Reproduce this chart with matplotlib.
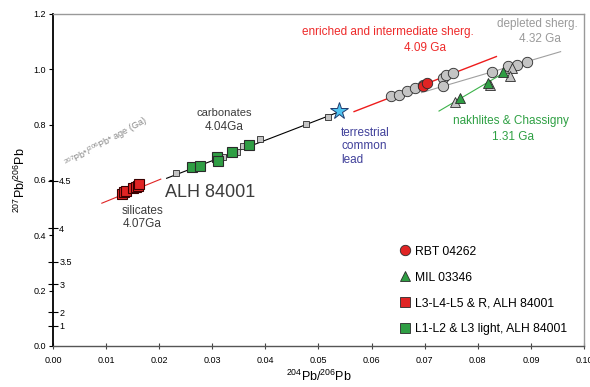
import matplotlib.pyplot as plt
import numpy as np

plt.rcParams['font.family'] = ['Liberation Sans', 'DejaVu Sans']
plt.rcParams['mathtext.fontset'] = 'custom'
plt.rcParams['mathtext.rm'] = 'Liberation Sans'
plt.rcParams['mathtext.it'] = 'Liberation Sans:italic'

red = "#e02424"
green = "#2f9e44"
grey = "#c4c4c4"
edge = "#2a2a2a"

# ALH 84001 silicates (L3-L4-L5 & R)
sil_x = [0.0130, 0.0134, 0.0137, 0.0151, 0.0156, 0.0160, 0.0162]
sil_y = [0.549, 0.557, 0.560, 0.571, 0.575, 0.578, 0.586]

# ALH 84001 carbonates (L1-L2 & L3 light)
carb_x = [0.0262, 0.0277, 0.0309, 0.0310, 0.0337, 0.0369]
carb_y = [0.646, 0.651, 0.683, 0.670, 0.702, 0.727]

# other carbonate fractions (grey squares)
gsq_x = [0.0232, 0.0320, 0.0346, 0.0358, 0.0389, 0.0476, 0.0517]
gsq_y = [0.624, 0.683, 0.701, 0.723, 0.749, 0.801, 0.827]

# shergottites (grey circles)
sherg_x = [0.0636, 0.0652, 0.0667, 0.0682, 0.0697, 0.0734, 0.0741, 0.0754,
           0.0734, 0.0826, 0.0857, 0.0873, 0.0893]
sherg_y = [0.904, 0.907, 0.922, 0.934, 0.943, 0.967, 0.979, 0.988,
           0.940, 0.991, 1.012, 1.016, 1.028]

# RBT 04262
rbt_x = [0.0697, 0.0705]
rbt_y = [0.940, 0.949]

# nakhlites & Chassigny (grey triangles)
nak_x = [0.0757, 0.0823, 0.0864, 0.0861]
nak_y = [0.883, 0.943, 1.004, 0.976]

# MIL 03346
mil_x = [0.0766, 0.0820, 0.0848]
mil_y = [0.895, 0.949, 0.991]

# terrestrial common lead
star_x = [0.0539]
star_y = [0.849]

# isochron lines (end points)
sil_line_x = [0.0092, 0.0203]
sil_line_y = [0.516, 0.603]
carb_line_x = [0.0214, 0.0540]
carb_line_y = [0.606, 0.847]
enr_line_x = [0.0567, 0.0835]
enr_line_y = [0.847, 1.046]
dep_line_x = [0.0694, 0.0956]
dep_line_y = [0.9156, 1.0637]
nak_line_x = [0.0727, 0.0850]
nak_line_y = [0.849, 0.988]

# 207Pb*/206Pb* age scale
age_ratio = [0.073, 0.122, 0.223, 0.305, 0.426, 0.597]
age_labels = ["1", "2", "3", "3.5", "4", "4.5"]

fig = plt.figure(figsize=(5.9, 3.87), dpi=100)
ax = fig.add_axes([0.0898, 0.106, 0.9, 0.858])

ax.plot(sil_line_x, sil_line_y, color=red, lw=0.8, zorder=1)
ax.plot(carb_line_x, carb_line_y, color='k', lw=0.8, zorder=1)
ax.plot(enr_line_x, enr_line_y, color='#ee1c1c', lw=1.0, zorder=1)
ax.plot(dep_line_x, dep_line_y, color='#a0a0a0', lw=0.8, zorder=1)
ax.plot(nak_line_x, nak_line_y, color='#3cb34a', lw=0.8, zorder=1)

ax.plot(gsq_x, gsq_y, 's', ms=4.5, mfc=grey, mec=edge, mew=0.6, ls='none', zorder=2)
ax.plot(sil_x, sil_y, 's', ms=7, mfc=red, mec='#3a0000', mew=0.8, ls='none', zorder=3)
ax.plot(carb_x, carb_y, 's', ms=7, mfc=green, mec=edge, mew=0.8, ls='none', zorder=3)
ax.plot(sherg_x, sherg_y, 'o', ms=7.5, mfc=grey, mec=edge, mew=0.6, ls='none', zorder=2)
ax.plot(rbt_x, rbt_y, 'o', ms=7.5, mfc=red, mec=edge, mew=0.6, ls='none', zorder=3)
ax.plot(nak_x, nak_y, '^', ms=7.5, mfc=grey, mec=edge, mew=0.6, ls='none', zorder=2)
ax.plot(mil_x, mil_y, '^', ms=7.5, mfc=green, mec=edge, mew=0.6, ls='none', zorder=3)
ax.plot(star_x, star_y, '*', ms=13, mfc='#4fc3f0', mec='#1f3b6e', mew=0.7, ls='none', zorder=4)

# legend
h1, = ax.plot([], [], 'o', ms=7.5, mfc=red, mec=edge, mew=0.6, ls='none')
h2, = ax.plot([], [], '^', ms=7.5, mfc=green, mec=edge, mew=0.6, ls='none')
h3, = ax.plot([], [], 's', ms=7, mfc=red, mec=edge, mew=0.6, ls='none')
h4, = ax.plot([], [], 's', ms=7, mfc=green, mec=edge, mew=0.6, ls='none')
ax.legend([h1, h2, h3, h4],
          ["RBT 04262", "MIL 03346", "L3-L4-L5 & R, ALH 84001", "L1-L2 & L3 light, ALH 84001"],
          loc='upper left', bbox_to_anchor=(0.628, 0.335), frameon=False,
          fontsize=8.7, labelspacing=1.15, handletextpad=0.25, handlelength=1.2)

# annotations
tc = "#3c3c3c"
ax.text(0.0630, 1.135, "enriched and intermediate sherg.", color='#ee2a2a', fontsize=8.5, ha='center', va='center')
ax.text(0.0700, 1.078, "4.09 Ga", color='#ee2a2a', fontsize=8.5, ha='center', va='center')
ax.text(0.0912, 1.163, "depleted sherg.", color='#9a9a9a', fontsize=8.5, ha='center', va='center')
ax.text(0.0917, 1.108, "4.32 Ga", color='#9a9a9a', fontsize=8.5, ha='center', va='center')
ax.text(0.0322, 0.842, "carbonates", color=tc, fontsize=8, ha='center', va='center')
ax.text(0.0322, 0.792, "4.04Ga", color=tc, fontsize=8.5, ha='center', va='center')
ax.text(0.0543, 0.792, "terrestrial\ncommon\nlead", color='#40409a', fontsize=8.5,
        ha='left', va='top', linespacing=1.15)
ax.text(0.0863, 0.812, "nakhlites & Chassigny", color='#2ea043', fontsize=8.5, ha='center', va='center')
ax.text(0.0866, 0.757, "1.31 Ga", color='#2ea043', fontsize=8.5, ha='center', va='center')
ax.text(0.0296, 0.554, "ALH 84001", color=tc, fontsize=13, ha='center', va='center')
ax.text(0.0168, 0.487, "silicates", color=tc, fontsize=8.5, ha='center', va='center')
ax.text(0.0168, 0.440, "4.07Ga", color=tc, fontsize=8.5, ha='center', va='center')
ax.text(0.0100, 0.737, "$^{207}$Pb*/$^{206}$Pb* age (Ga)", color='#858585', fontsize=6.5,
        ha='center', va='center', rotation=29)

ax.set_xlim(0, 0.1)
ax.set_ylim(0, 1.2)
ax.set_xticks(np.arange(0, 0.1001, 0.01))
ax.set_xticklabels(["%.2f" % v for v in np.arange(0, 0.1001, 0.01)])
ax.set_yticks(np.arange(0, 1.201, 0.2))
ax.set_yticklabels(["%.1f" % v for v in np.arange(0, 1.201, 0.2)])
ax.tick_params(axis='x', direction='inout', length=4, width=0.8, labelsize=6.5, pad=5, color='#444444')
ax.tick_params(axis='y', direction='out', length=3, width=0.8, labelsize=6.5, pad=2)
ax.set_xlabel("$^{204}$Pb/$^{206}$Pb", fontsize=9, labelpad=3)
ax.set_ylabel("$^{207}$Pb/$^{206}$Pb", fontsize=9, labelpad=4)

ax.spines['left'].set_color('k')
ax.spines['left'].set_linewidth(1.3)
ax.spines['bottom'].set_color('#555555')
ax.spines['bottom'].set_linewidth(1.0)
for s in ['top', 'right']:
    ax.spines[s].set_color('#999999')
    ax.spines[s].set_linewidth(1.0)

# age scale along the left axis
ax2 = ax.twinx()
ax2.set_ylim(ax.get_ylim())
ax2.spines['right'].set_position(('axes', 0))
for s in ['left', 'top', 'bottom', 'right']:
    ax2.spines[s].set_visible(False)
ax2.set_yticks(age_ratio)
ax2.set_yticklabels(age_labels)
ax2.tick_params(axis='y', direction='inout', length=7, width=0.8, labelsize=6.5, pad=1)

fig.savefig("out.png", dpi=100)
